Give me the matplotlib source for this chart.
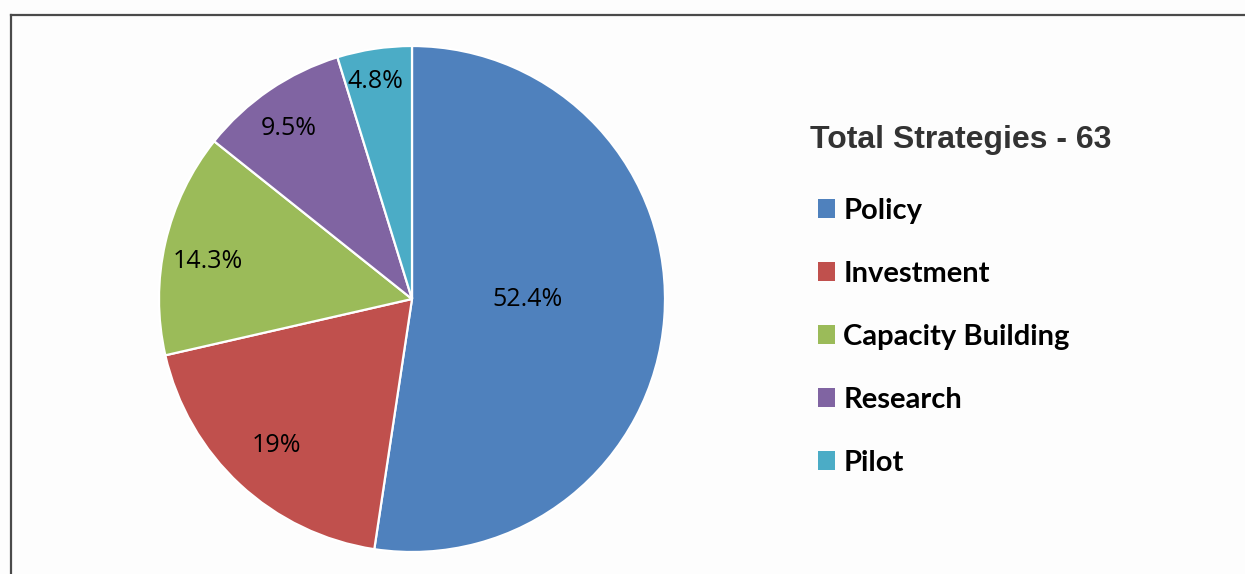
import matplotlib.pyplot as plt
import numpy as np
from matplotlib.lines import Line2D

categories = ['Policy', 'Investment', 'Capacity Building', 'Research', 'Pilot']
counts = [33, 12, 9, 6, 3]
pct_labels = [52.4, 19, 14.3, 9.5, 4.8]
colors = ['#4F81BD', '#C0504D', '#9BBB59', '#8064A2', '#4BACC6']
legend_title = 'Total Strategies - 63'

W, H = 1245, 574
fig = plt.figure(figsize=(W / 100, H / 100), dpi=100)
fig.patch.set_facecolor('#fdfdfd')

# pie centre and radius in pixels
cx, cy, r = 412, 299, 253
ax = fig.add_axes([(cx - r) / W, (H - cy - r) / H, 2 * r / W, 2 * r / H])
wedges, _ = ax.pie(counts, colors=colors, startangle=90, counterclock=False,
                   wedgeprops=dict(edgecolor='white', linewidth=1.6))
ax.set_xlim(-1, 1)
ax.set_ylim(-1, 1)
ax.set_aspect('equal')
ax.axis('off')

# label distance from centre (fraction of radius) and angle nudges
label_r = [0.455, 0.79, 0.82, 0.83, 0.87]
label_nudge = [4.0, 0.0, 2.5, 1.5, 1.0]
for w, p, lr, nd in zip(wedges, pct_labels, label_r, label_nudge):
    ang = np.deg2rad((w.theta1 + w.theta2) / 2 + nd)
    ax.text(lr * np.cos(ang), lr * np.sin(ang), '{:g}%'.format(p),
            ha='center', va='center', fontsize=18, family='Open Sans', color='black')

fig.text(810 / W, 1 - 140 / H, legend_title, ha='left', va='center',
         family='Liberation Sans', weight='bold', fontsize=23, color='#333333')

leg = fig.legend(wedges, categories, loc='upper left',
                 bbox_to_anchor=(806 / W, 1 - 186 / H), frameon=False,
                 prop=dict(family='Lato', weight='bold', size=21),
                 handlelength=0.6, handleheight=0.6, handletextpad=0.28,
                 labelspacing=1.27, borderaxespad=0)
for h in leg.legend_handles:
    h.set_edgecolor('none')

# partial frame: left and top borders
fig.add_artist(Line2D([11 / W, 11 / W], [0, 1 - 15 / H], color='#4a4a4a', lw=1.6,
                      transform=fig.transFigure))
fig.add_artist(Line2D([11 / W, 1], [1 - 15 / H, 1 - 15 / H], color='#4a4a4a', lw=1.6,
                      transform=fig.transFigure))

fig.savefig('out.png', dpi=100, facecolor=fig.get_facecolor())
